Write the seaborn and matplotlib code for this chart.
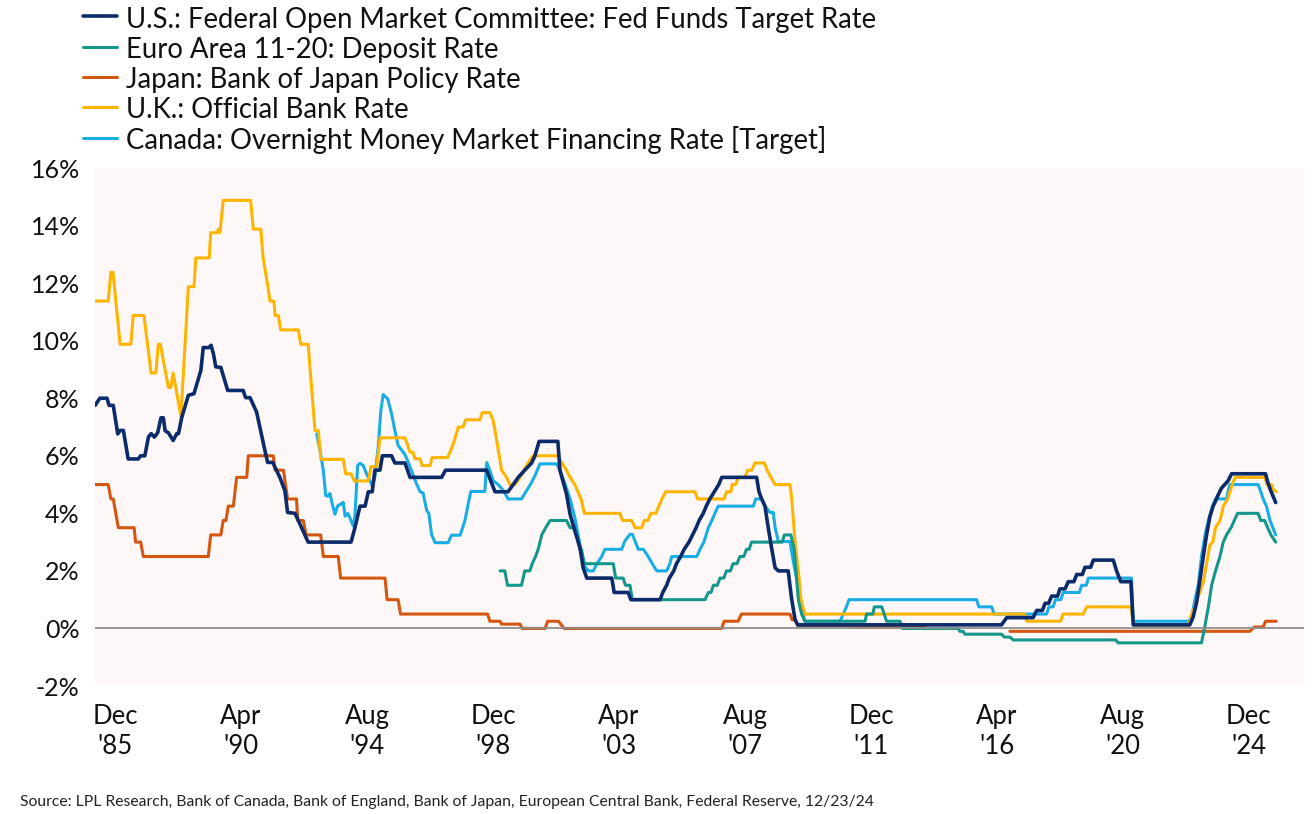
import pandas as pd
import matplotlib.pyplot as plt
import matplotlib.ticker as mticker
import seaborn as sns

sns.set_style("white")
plt.rcParams["font.family"] = ["Lato", "DejaVu Sans"]

# %% DATA  (decimal year, rate in %)

us_rate = [
    (1985.45, 7.75), (1985.61, 8.0), (1985.85, 8.0), (1985.92, 7.75), (1986.06, 7.75),
    (1986.21, 6.76), (1986.29, 6.88), (1986.4, 6.88), (1986.56, 5.89), (1986.9, 5.89),
    (1986.98, 6.0), (1987.12, 6.0), (1987.24, 6.65), (1987.33, 6.77), (1987.44, 6.65),
    (1987.55, 6.8), (1987.66, 7.32), (1987.74, 7.32), (1987.8, 6.87), (1987.91, 6.8),
    (1988.07, 6.53), (1988.19, 6.77), (1988.25, 6.77), (1988.36, 7.34), (1988.58, 8.1),
    (1988.77, 8.16), (1989.0, 8.97), (1989.08, 9.76), (1989.27, 9.76), (1989.34, 9.84),
    (1989.42, 9.55), (1989.5, 9.09), (1989.67, 9.07), (1989.9, 8.27), (1990.42, 8.27),
    (1990.5, 8.02), (1990.65, 8.02), (1990.87, 7.52), (1990.98, 6.99), (1991.15, 6.18),
    (1991.24, 5.77), (1991.41, 5.77), (1991.65, 5.25), (1991.82, 4.79), (1991.91, 4.03),
    (1992.16, 4.0), (1992.38, 3.5), (1992.6, 3.0), (1994.04, 3.0), (1994.17, 3.5),
    (1994.34, 4.25), (1994.51, 4.25), (1994.62, 4.75), (1994.75, 4.75), (1994.84, 5.5),
    (1995.01, 5.5), (1995.09, 6.0), (1995.4, 6.0), (1995.51, 5.75), (1995.85, 5.75),
    (1996.02, 5.25), (1997.08, 5.25), (1997.21, 5.5), (1998.59, 5.5), (1998.87, 4.75),
    (1999.31, 4.75), (1999.48, 5.0), (1999.65, 5.25), (1999.87, 5.5), (2000.1, 5.75),
    (2000.21, 6.0), (2000.35, 6.5), (2000.98, 6.5), (2001.05, 5.5), (2001.27, 4.67),
    (2001.39, 3.97), (2001.55, 3.39), (2001.72, 2.81), (2001.83, 2.11), (2001.95, 1.75),
    (2002.79, 1.75), (2002.87, 1.25), (2003.34, 1.25), (2003.43, 1.0), (2004.41, 1.0),
    (2004.5, 1.25), (2004.63, 1.5), (2004.72, 1.75), (2004.87, 2.0), (2004.96, 2.25),
    (2005.1, 2.5), (2005.22, 2.75), (2005.38, 3.0), (2005.5, 3.25), (2005.62, 3.5),
    (2005.72, 3.75), (2005.86, 4.0), (2005.96, 4.25), (2006.08, 4.5), (2006.23, 4.75),
    (2006.38, 5.0), (2006.48, 5.25), (2007.65, 5.25), (2007.73, 4.75), (2007.82, 4.5),
    (2007.93, 4.25), (2008.04, 3.5), (2008.15, 2.81), (2008.27, 2.11), (2008.38, 2.0),
    (2008.71, 2.0), (2008.82, 1.06), (2008.94, 0.31), (2009.03, 0.125), (2015.87, 0.125),
    (2016.04, 0.375), (2016.93, 0.375), (2017.05, 0.625), (2017.24, 0.625), (2017.33, 0.875),
    (2017.45, 0.875), (2017.55, 1.125), (2017.75, 1.125), (2017.83, 1.375), (2018.0, 1.375),
    (2018.11, 1.625), (2018.3, 1.625), (2018.39, 1.875), (2018.58, 1.875), (2018.67, 2.125),
    (2018.86, 2.125), (2018.95, 2.375), (2019.62, 2.375), (2019.73, 2.0), (2019.87, 1.625),
    (2020.21, 1.625), (2020.29, 0.125), (2022.19, 0.125), (2022.3, 0.4), (2022.41, 0.875),
    (2022.52, 1.625), (2022.64, 2.5), (2022.75, 3.25), (2022.86, 3.875), (2022.97, 4.25),
    (2023.03, 4.375), (2023.12, 4.6), (2023.25, 4.875), (2023.47, 5.125), (2023.59, 5.375),
    (2024.73, 5.375), (2024.8, 5.1), (2024.88, 4.85), (2024.98, 4.6), (2025.07, 4.375),
]

euro_rate = [
    (1999.04, 2.0), (1999.2, 2.0), (1999.29, 1.5), (1999.76, 1.5), (1999.87, 2.0),
    (2000.04, 2.0), (2000.12, 2.25), (2000.23, 2.5), (2000.32, 2.75), (2000.44, 3.25),
    (2000.57, 3.5), (2000.72, 3.75), (2001.27, 3.75), (2001.39, 3.5), (2001.55, 3.5),
    (2001.61, 3.25), (2001.72, 2.75), (2001.77, 2.75), (2001.87, 2.25), (2002.84, 2.25),
    (2002.92, 1.75), (2003.17, 1.75), (2003.25, 1.5), (2003.4, 1.5), (2003.48, 1.0),
    (2005.92, 1.0), (2006.03, 1.25), (2006.12, 1.25), (2006.2, 1.5), (2006.33, 1.5),
    (2006.42, 1.75), (2006.55, 1.75), (2006.64, 2.0), (2006.77, 2.0), (2006.86, 2.25),
    (2006.99, 2.25), (2007.09, 2.5), (2007.22, 2.5), (2007.31, 2.75), (2007.4, 2.75),
    (2007.48, 3.0), (2008.51, 3.0), (2008.58, 3.25), (2008.8, 3.25), (2008.91, 2.75),
    (2009.05, 1.0), (2009.16, 0.5), (2009.27, 0.25), (2011.29, 0.25), (2011.34, 0.5),
    (2011.55, 0.5), (2011.6, 0.75), (2011.85, 0.75), (2011.93, 0.5), (2012.01, 0.25),
    (2012.46, 0.25), (2012.54, 0.0), (2014.42, 0.0), (2014.47, -0.1), (2014.58, -0.1),
    (2014.64, -0.2), (2015.87, -0.2), (2015.96, -0.3), (2016.15, -0.3), (2016.26, -0.4),
    (2019.7, -0.4), (2019.78, -0.5), (2022.58, -0.5), (2022.68, 0.0), (2022.81, 0.75),
    (2022.92, 1.5), (2023.05, 2.0), (2023.2, 2.5), (2023.31, 3.0), (2023.42, 3.25),
    (2023.57, 3.5), (2023.68, 3.75), (2023.79, 4.0), (2024.48, 4.0), (2024.57, 3.75),
    (2024.7, 3.75), (2024.8, 3.5), (2024.91, 3.25), (2025.07, 3.0),
]

# None marks the stretch with no published policy rate
japan_rate = [
    (1985.45, 5.0), (1985.89, 5.0), (1985.98, 4.5), (1986.06, 4.5), (1986.23, 3.5),
    (1986.76, 3.5), (1986.81, 3.0), (1986.98, 3.0), (1987.07, 2.5), (1989.25, 2.5),
    (1989.33, 3.25), (1989.67, 3.25), (1989.75, 3.75), (1989.84, 3.75), (1989.92, 4.25),
    (1990.09, 4.25), (1990.2, 5.25), (1990.54, 5.25), (1990.59, 6.0), (1991.43, 6.0),
    (1991.49, 5.5), (1991.77, 5.5), (1991.91, 4.5), (1992.21, 4.5), (1992.25, 3.75),
    (1992.44, 3.75), (1992.53, 3.25), (1993.02, 3.25), (1993.11, 2.5), (1993.61, 2.5),
    (1993.69, 1.75), (1995.18, 1.75), (1995.25, 1.0), (1995.62, 1.0), (1995.7, 0.5),
    (1998.62, 0.5), (1998.7, 0.25), (1999.04, 0.25), (1999.09, 0.15), (1999.71, 0.15),
    (1999.78, 0.0), (2000.55, 0.0), (2000.64, 0.25), (2001.0, 0.25), (2001.19, 0.0),
    (2006.48, 0.0), (2006.56, 0.25), (2007.03, 0.25), (2007.14, 0.5), (2008.77, 0.5),
    (2008.84, 0.3), (2008.94, 0.3), (2009.03, 0.1), (2010.78, 0.1), (2010.85, 0.05),
    (2013.3, 0.05), (2014.7, None), (2016.15, -0.1), (2024.2, -0.1), (2024.35, 0.05),
    (2024.65, 0.05), (2024.73, 0.25), (2025.09, 0.25),
]

uk_rate = [
    (1985.45, 11.375), (1985.89, 11.375), (1985.98, 12.375), (1986.05, 12.375), (1986.29, 9.875),
    (1986.65, 9.875), (1986.73, 10.875), (1987.09, 10.875), (1987.33, 8.875), (1987.49, 8.875),
    (1987.57, 9.875), (1987.64, 9.875), (1987.91, 8.375), (1987.99, 8.375), (1988.07, 8.875),
    (1988.33, 7.375), (1988.58, 11.875), (1988.77, 11.875), (1988.83, 12.875), (1989.28, 12.875),
    (1989.33, 13.75), (1989.54, 13.75), (1989.59, 13.875), (1989.64, 13.75), (1989.75, 14.875),
    (1990.67, 14.875), (1990.76, 13.875), (1991.01, 13.875), (1991.09, 12.875), (1991.25, 11.875),
    (1991.32, 11.375), (1991.45, 11.375), (1991.49, 10.875), (1991.6, 10.875), (1991.68, 10.375),
    (1992.27, 10.375), (1992.35, 9.875), (1992.6, 9.875), (1992.83, 6.875), (1992.94, 6.875),
    (1993.03, 5.875), (1993.78, 5.875), (1993.86, 5.375), (1994.04, 5.375), (1994.15, 5.125),
    (1994.62, 5.125), (1994.71, 5.625), (1994.9, 5.625), (1995.01, 6.625), (1995.85, 6.625),
    (1996.02, 6.125), (1996.12, 6.125), (1996.18, 5.9), (1996.35, 5.9), (1996.43, 5.66),
    (1996.69, 5.66), (1996.76, 5.94), (1997.28, 5.94), (1997.41, 6.25), (1997.5, 6.5),
    (1997.57, 6.75), (1997.64, 7.0), (1997.8, 7.0), (1997.89, 7.25), (1998.37, 7.25),
    (1998.44, 7.5), (1998.7, 7.5), (1998.8, 7.25), (1998.87, 6.9), (1998.98, 6.2),
    (1999.09, 5.5), (1999.26, 5.25), (1999.37, 5.0), (1999.54, 5.0), (1999.71, 5.25),
    (1999.84, 5.5), (1999.98, 5.75), (2000.15, 6.0), (2000.99, 6.0), (2001.11, 5.75),
    (2001.27, 5.5), (2001.39, 5.25), (2001.55, 5.0), (2001.65, 4.75), (2001.76, 4.5),
    (2001.87, 4.0), (2003.06, 4.0), (2003.15, 3.75), (2003.46, 3.75), (2003.57, 3.5),
    (2003.79, 3.5), (2003.88, 3.75), (2004.0, 3.75), (2004.1, 4.0), (2004.27, 4.0),
    (2004.37, 4.25), (2004.47, 4.5), (2004.6, 4.75), (2005.58, 4.75), (2005.67, 4.5),
    (2006.56, 4.5), (2006.64, 4.75), (2006.79, 4.75), (2006.83, 5.0), (2006.95, 5.0),
    (2007.03, 5.25), (2007.26, 5.25), (2007.35, 5.5), (2007.49, 5.5), (2007.59, 5.75),
    (2007.91, 5.75), (2008.0, 5.5), (2008.13, 5.25), (2008.27, 5.0), (2008.77, 5.0),
    (2008.83, 4.5), (2008.94, 3.0), (2009.05, 2.0), (2009.14, 1.0), (2009.27, 0.5),
    (2016.65, 0.5), (2016.72, 0.25), (2017.85, 0.25), (2017.93, 0.5), (2018.61, 0.5),
    (2018.73, 0.75), (2020.21, 0.75), (2020.31, 0.1), (2022.16, 0.1), (2022.19, 0.25),
    (2022.25, 0.5), (2022.36, 0.75), (2022.47, 1.1), (2022.64, 1.6), (2022.75, 2.25),
    (2022.86, 2.9), (2022.96, 3.0), (2023.05, 3.5), (2023.2, 3.75), (2023.26, 4.0),
    (2023.31, 4.25), (2023.46, 4.5), (2023.64, 5.1), (2023.72, 5.25), (2024.71, 5.25),
    (2024.77, 5.0), (2024.93, 5.0), (2024.98, 4.85), (2025.09, 4.75),
]

canada_rate = [
    (1992.89, 6.76), (1993.0, 6.18), (1993.11, 5.48), (1993.19, 4.61), (1993.27, 4.6),
    (1993.33, 4.69), (1993.41, 4.32), (1993.5, 3.97), (1993.59, 4.26), (1993.66, 4.3),
    (1993.78, 4.38), (1993.84, 3.9), (1993.93, 4.0), (1994.0, 3.85), (1994.11, 3.56),
    (1994.17, 3.9), (1994.26, 5.66), (1994.34, 5.74), (1994.45, 5.66), (1994.56, 5.37),
    (1994.67, 5.13), (1994.75, 4.96), (1994.84, 5.25), (1994.95, 6.3), (1995.04, 7.58),
    (1995.12, 8.13), (1995.27, 7.98), (1995.4, 7.46), (1995.51, 6.88), (1995.62, 6.36),
    (1995.7, 6.25), (1995.85, 6.04), (1995.96, 5.77), (1996.09, 5.42), (1996.24, 5.02),
    (1996.35, 4.76), (1996.46, 4.7), (1996.58, 4.09), (1996.65, 4.0), (1996.74, 3.27),
    (1996.86, 2.98), (1997.3, 2.98), (1997.41, 3.24), (1997.7, 3.24), (1997.86, 3.74),
    (1997.97, 4.32), (1998.06, 4.76), (1998.53, 4.76), (1998.59, 5.77), (1998.7, 5.48),
    (1998.81, 5.13), (1998.98, 5.0), (1999.15, 4.79), (1999.31, 4.5), (1999.76, 4.5),
    (1999.93, 4.79), (2000.07, 5.02), (2000.21, 5.31), (2000.38, 5.72), (2000.94, 5.72),
    (2001.05, 5.48), (2001.22, 5.02), (2001.39, 4.5), (2001.55, 3.85), (2001.72, 2.93),
    (2001.83, 2.23), (2002.0, 2.0), (2002.17, 2.0), (2002.28, 2.23), (2002.45, 2.5),
    (2002.56, 2.75), (2003.12, 2.75), (2003.23, 3.04), (2003.4, 3.27), (2003.48, 3.27),
    (2003.57, 3.04), (2003.68, 2.75), (2003.85, 2.75), (2004.01, 2.5), (2004.15, 2.25),
    (2004.3, 2.0), (2004.63, 2.0), (2004.74, 2.25), (2004.8, 2.5), (2005.64, 2.5),
    (2005.75, 2.75), (2005.88, 3.0), (2006.03, 3.5), (2006.15, 3.75), (2006.25, 4.0),
    (2006.36, 4.25), (2007.54, 4.25), (2007.62, 4.5), (2007.82, 4.5), (2007.93, 4.26),
    (2008.1, 4.03), (2008.21, 4.03), (2008.27, 3.51), (2008.38, 3.02), (2008.77, 3.02),
    (2008.88, 2.34), (2009.05, 1.41), (2009.16, 0.72), (2009.27, 0.25), (2010.45, 0.25),
    (2010.56, 0.5), (2010.67, 0.77), (2010.75, 1.0), (2015.03, 1.0), (2015.11, 0.75),
    (2015.54, 0.75), (2015.62, 0.5), (2017.38, 0.5), (2017.46, 0.75), (2017.6, 0.75),
    (2017.68, 1.0), (2017.86, 1.0), (2017.94, 1.25), (2018.48, 1.25), (2018.56, 1.5),
    (2018.72, 1.5), (2018.78, 1.75), (2020.23, 1.75), (2020.29, 0.25), (2022.16, 0.25),
    (2022.27, 0.5), (2022.36, 1.0), (2022.47, 1.5), (2022.58, 2.5), (2022.7, 3.25),
    (2022.81, 3.75), (2022.95, 4.25), (2023.05, 4.5), (2023.42, 4.5), (2023.47, 4.75),
    (2023.53, 5.0), (2024.48, 5.0), (2024.57, 4.75), (2024.65, 4.5), (2024.76, 4.25),
    (2024.88, 3.75), (2025.07, 3.25),
]

labels = [
    "U.S.: Federal Open Market Committee: Fed Funds Target Rate",
    "Euro Area 11-20: Deposit Rate",
    "Japan: Bank of Japan Policy Rate",
    "U.K.: Official Bank Rate",
    "Canada: Overnight Money Market Financing Rate [Target]",
]
series = [us_rate, euro_rate, japan_rate, uk_rate, canada_rate]
colors = ["#0b2b6a", "#13978a", "#d4560f", "#ffb400", "#19ade6"]
widths = [2.6, 2.2, 2.2, 2.2, 2.2]

tick_labels = ["Dec\n'85", "Apr\n'90", "Aug\n'94", "Dec\n'98", "Apr\n'03",
               "Aug\n'07", "Dec\n'11", "Apr\n'16", "Aug\n'20", "Dec\n'24"]
first_tick, tick_step = 1986.12, 4.228

source = ("Source: LPL Research, Bank of Canada, Bank of England, Bank of Japan, "
          "European Central Bank, Federal Reserve, 12/23/24")

# %% PLOT

fig = plt.figure(figsize=(13.14, 8.14), dpi=100)
ax = fig.add_axes([95 / 1314, 1 - 686 / 814, 1209 / 1314, 518 / 814])
ax.set_facecolor("#fdf7f7")

handles = {}
# canada drawn first, fed last (on top)
for i in reversed(range(len(series))):
    veri = pd.DataFrame(series[i], columns=["t", "rate"])
    veri["seg"] = veri["rate"].isna().cumsum()
    veri = veri.dropna()
    sns.lineplot(x="t", y="rate", data=veri, units="seg", estimator=None, sort=False,
                 color=colors[i], lw=widths[i], ax=ax, label=labels[i])
    handles[i] = ax.get_lines()[-1]

ax.axhline(0, color="#8f8f8f", lw=1.3, zorder=10)

ax.set_xlim(1985.447, 2026.02)
ax.set_ylim(-2, 16)
ax.set_yticks(range(-2, 17, 2))
ax.yaxis.set_major_formatter(mticker.FuncFormatter(lambda v, p: f"{v:.0f}%"))
ax.set_xticks([first_tick + k * tick_step for k in range(len(tick_labels))])
ax.set_xticklabels(tick_labels, linespacing=1.25)
ax.set_xlabel("")
ax.set_ylabel("")
ax.tick_params(axis="y", length=0, pad=11, labelsize=18, labelcolor="#111111")
ax.tick_params(axis="x", length=0, pad=13, labelsize=18.5, labelcolor="#111111")
for s in ax.spines.values():
    s.set_visible(False)

# tall handle boxes keep every legend row the same height
ax.get_legend().remove()
fig.legend([handles[i] for i in range(len(series))], labels, loc="upper left",
           bbox_to_anchor=(83 / 1314, 1 - 5 / 814), frameon=False, fontsize=19.8,
           handlelength=1.25, handleheight=1.1, handletextpad=0.3, labelspacing=0.1,
           borderpad=0, borderaxespad=0, labelcolor="#111111")

fig.text(20 / 1314, 1 - 802 / 814, source, fontsize=11.3, va="center", color="#222222")

fig.savefig("out.png", dpi=100)
